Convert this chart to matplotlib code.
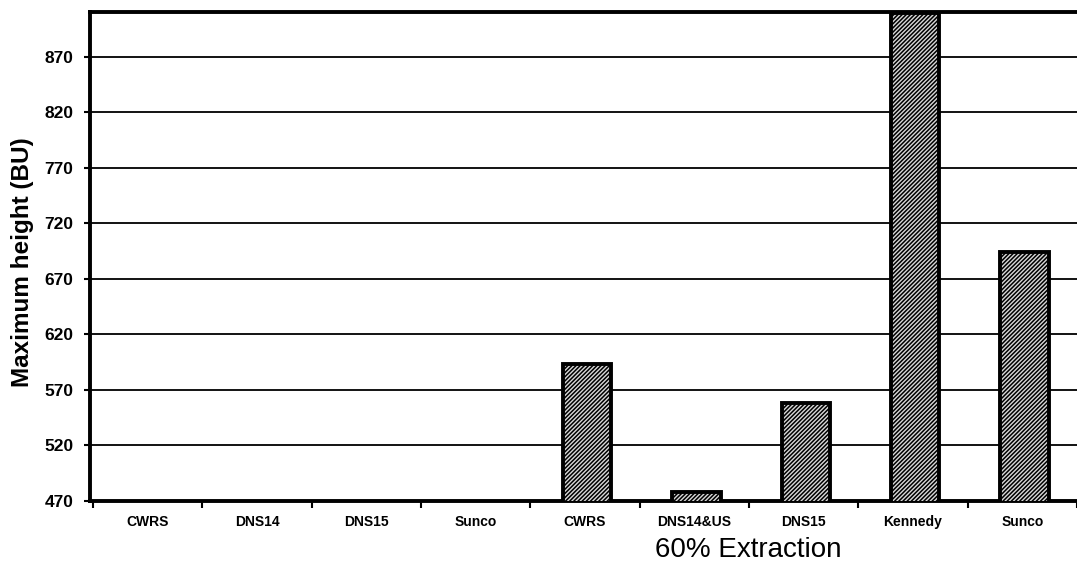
import numpy as np
import matplotlib
matplotlib.use("Agg")
import matplotlib.pyplot as plt

categories = ["CWRS", "DNS14", "DNS15", "Sunco",
              "CWRS", "DNS14&US", "DNS15", "Kennedy", "Sunco"]
max_height = [np.nan, np.nan, np.nan, np.nan,
              593, 478, 558, 909, 694]
yticks = [470, 520, 570, 620, 670, 720, 770, 820, 870]
group_label = "60% Extraction"
ylabel = "Maximum height (BU)"

plt.rcParams['hatch.linewidth'] = 1.1
plt.rcParams['hatch.color'] = '#222222'
plt.rcParams['font.family'] = ['Liberation Sans', 'DejaVu Sans']

fig = plt.figure(figsize=(10.77, 5.73), dpi=100)
ax = fig.add_axes([0.0836, 0.1262, 0.9164, 0.8534])

x = np.arange(len(categories))
ax.bar(x + 0.02, max_height, width=0.44, bottom=0, facecolor='#d8d8d8',
       edgecolor='black', hatch='////////', linewidth=2.8, zorder=3)

ax.set_ylim(470, 910.5)
ax.set_xlim(-0.527, 8.445)
ax.set_yticks(yticks)
ax.set_yticklabels([str(t) for t in yticks], fontsize=12.5, fontweight='bold')
for t in yticks[1:]:
    ax.axhline(t, color='black', linewidth=1.3, zorder=1)

ax.set_xticks(x)
ax.set_xticklabels(categories, fontsize=10, fontweight='bold')
ax.tick_params(axis='x', length=0, pad=10)
ax.set_xticks(np.arange(len(categories) + 1) - 0.5, minor=True)
ax.tick_params(axis='x', which='minor', length=5, width=1.5, direction='out')
ax.tick_params(axis='y', length=4, width=1.5, direction='out', pad=8)

for s in ['left', 'bottom', 'top']:
    ax.spines[s].set_linewidth(2.8)
ax.spines['right'].set_visible(False)

ax.set_ylabel(ylabel, fontsize=17.5, fontweight='bold')
ax.yaxis.set_label_coords(-0.057, 0.488)

fig.text(0.695, 0.040, group_label, fontsize=20, ha='center', va='center')

fig.savefig("out.png", dpi=100)
